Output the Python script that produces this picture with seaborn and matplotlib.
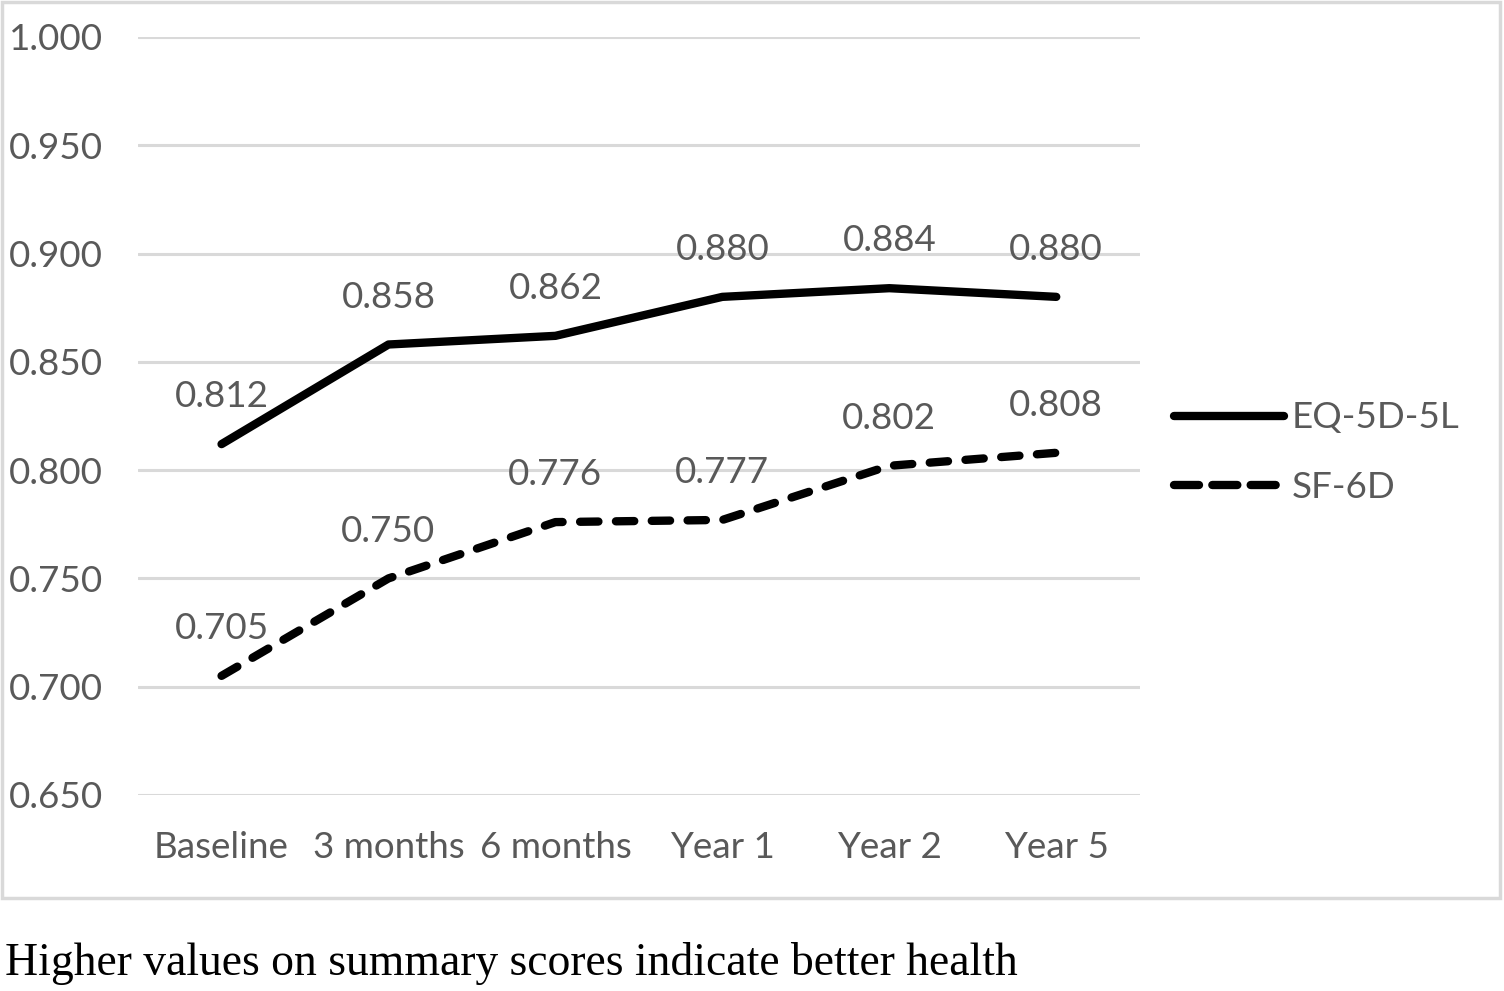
import matplotlib
matplotlib.use("Agg")
import matplotlib.pyplot as plt
from matplotlib.patches import Rectangle
from matplotlib.lines import Line2D
import seaborn as sns
import pandas as pd

timepoints = ["Baseline", "3 months", "6 months", "Year 1", "Year 2", "Year 5"]
eq5d = [0.812, 0.858, 0.862, 0.880, 0.884, 0.880]
sf6d = [0.705, 0.750, 0.776, 0.777, 0.802, 0.808]
series_names = ["EQ-5D-5L", "SF-6D"]
yticks = [0.650, 0.700, 0.750, 0.800, 0.850, 0.900, 0.950, 1.000]
caption = "Higher values on summary scores indicate better health"

df = pd.DataFrame({
    "Time": timepoints * 2,
    "Score": eq5d + sf6d,
    "Measure": [series_names[0]] * len(eq5d) + [series_names[1]] * len(sf6d),
})

sns.set_style("white")
plt.rcParams["font.family"] = ["Lato", "DejaVu Sans"]
TXT = "#595959"
FS = 26.5

fig = plt.figure(figsize=(15.04, 9.91), dpi=100)
ax = fig.add_axes([0.0918, 0.1978, 0.666, 0.7649])

sns.lineplot(
    data=df, x="Time", y="Score", style="Measure", ax=ax,
    color="black", linewidth=6, sort=False,
    dashes={"EQ-5D-5L": "", "SF-6D": (2.2, 2.1)},
    legend=False,
)
for line in ax.get_lines():
    line.set_dash_capstyle("round")
    line.set_solid_capstyle("round")
    line.set_solid_joinstyle("round")

# data labels above each point
for vals in (eq5d, sf6d):
    for i, v in enumerate(vals):
        ax.annotate(f"{v:.3f}", (i, v), xytext=(0, 34), textcoords="offset points",
                    ha="center", va="center", fontsize=FS, color=TXT)

ax.set_xlim(-0.5, len(timepoints) - 0.5)
ax.set_ylim(0.650, 1.000)
ax.set_yticks(yticks)
ax.set_yticklabels([f"{t:.3f}" for t in yticks])
ax.yaxis.grid(True, color="#d9d9d9", linewidth=2.2)
ax.set_axisbelow(True)
ax.tick_params(axis="both", length=0, labelsize=FS, labelcolor=TXT)
ax.tick_params(axis="y", pad=25)
ax.tick_params(axis="x", pad=26)
ax.set_xlabel("")
ax.set_ylabel("")
for s in ax.spines.values():
    s.set_visible(False)

# legend (Excel-style handles: longer dashes in the key)
handles = [
    Line2D([], [], color="black", linewidth=6, solid_capstyle="round"),
    Line2D([], [], color="black", linewidth=6, dashes=(3.0, 1.6), dash_capstyle="round"),
]
leg = fig.legend(handles, series_names, loc="center left", bbox_to_anchor=(0.7806, 0.543),
                 frameon=False, fontsize=FS, labelcolor=TXT, handlelength=3.0,
                 handletextpad=0.2, labelspacing=1.0, borderaxespad=0, borderpad=0)

# chart border
fig.patches.append(Rectangle((0.0015, 0.094), 0.996, 0.904, transform=fig.transFigure,
                             fill=False, edgecolor="#d9d9d9", linewidth=2.5))

fig.text(0.003, 0.016, caption, fontsize=32.9, family="Liberation Serif",
         color="black", ha="left", va="baseline")

fig.savefig("out.png", dpi=100)
